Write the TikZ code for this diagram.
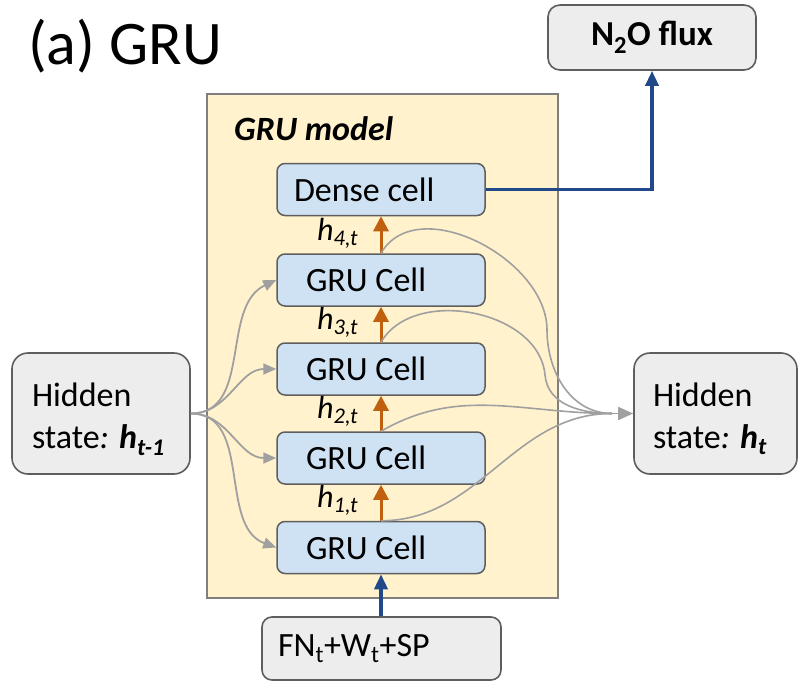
\documentclass[tikz,border=0pt]{standalone}
\usepackage{fontspec}
\setmainfont{Carlito}
\usetikzlibrary{arrows.meta}
\definecolor{boxgray}{HTML}{EDEDED}
\definecolor{boxborder}{HTML}{5E5E5E}
\definecolor{cellblue}{HTML}{CFE2F3}
\definecolor{modelyellow}{HTML}{FFF2CC}
\definecolor{modelborder}{HTML}{7F7F7F}
\definecolor{hcolor}{HTML}{C0600E}
\definecolor{flowblue}{HTML}{21498A}
\definecolor{curvegray}{HTML}{A0A0A0}
\tikzset{
  txt/.style={font=\fontsize{34}{41.5}\selectfont},
  graybox/.style={draw=boxborder, fill=boxgray, line width=1.6pt, rounded corners=12pt, txt},
  cellbox/.style={draw=boxborder, fill=cellblue, line width=1.5pt, rounded corners=8pt,
    minimum width=208pt, minimum height=52pt, inner ysep=0pt, txt, align=flush left},
  modelbox/.style={draw=modelborder, fill=modelyellow, line width=1.4pt},
  harrow/.style={draw=hcolor, line width=3pt, -{Triangle[length=15pt,width=15pt]}},
  bluearrow/.style={draw=flowblue, line width=3.5pt, -{Triangle[length=15pt,width=13pt]}},
  fanin/.style={draw=curvegray, line width=1.8pt, -{Triangle[length=13pt,width=11pt]}},
  fanout/.style={draw=curvegray, line width=1.6pt},
  hlabel/.style={font=\fontsize{32}{38}\selectfont, inner sep=0pt, anchor=base west},
  grucell/.style={cellbox, inner xsep=29pt, text width=150pt},
  hiddenbox/.style={graybox, rounded corners=16pt, minimum height=121pt, inner ysep=0pt, align=flush left},
}
\begin{document}
\begin{tikzpicture}[x=1pt,y=-1pt]
\useasboundingbox (0,0) rectangle (799,682);

% title
\node[font=\fontsize{62}{70}\selectfont, inner sep=0pt, anchor=base west] (title) at (28,65) {(a) GRU};

% model background
\node[modelbox, minimum width=351pt, minimum height=504pt, inner sep=0pt] (model) at (382.5,346) {};
\node[font=\fontsize{34}{41}\selectfont\bfseries\itshape, inner sep=0pt, anchor=base west] (mlabel) at (234,140) {GRU model};

% cells
\node[cellbox, inner xsep=17pt, text width=174pt] (dense) at (381,189.5) {Dense cell};
\node[grucell] (c4) at (381,280) {GRU Cell};
\node[grucell] (c3) at (381,369) {GRU Cell};
\node[grucell] (c2) at (381,458) {GRU Cell};
\node[grucell] (c1) at (381,547.5) {GRU Cell};

% outside boxes
\node[graybox, minimum width=208pt, minimum height=65pt, inner sep=0pt, font=\fontsize{35}{42}\selectfont\bfseries] (flux) at (652,37.5) {N\textsubscript{2}O flux};
\node[graybox, rounded corners=10pt, minimum height=63pt, inner xsep=16pt, inner ysep=0pt, text width=207pt, align=flush left] (inp) at (381.5,648.5) {FN\textsubscript{t}+W\textsubscript{t}+SP};
\node[hiddenbox, inner xsep=20pt, text width=138pt] (hl) at (101,413.5) {\rule{0pt}{35pt}Hidden\\\mbox{state\textit{: }\textbf{\textit{h}\textsubscript{\textit{t-1}}}}};
\node[hiddenbox, inner xsep=19pt, text width=125pt] (hr) at (715.5,413.5) {\rule{0pt}{35pt}Hidden\\\mbox{state\textit{: }\textbf{\textit{h}\textsubscript{\textit{t}}}}};

% h labels
\node[hlabel] (h4) at (317,240) {\textit{h}\textsubscript{\textit{4,t}}};
\node[hlabel] (h3) at (317,329) {\textit{h}\textsubscript{\textit{3,t}}};
\node[hlabel] (h2) at (317,418) {\textit{h}\textsubscript{\textit{2,t}}};
\node[hlabel] (h1) at (317,507) {\textit{h}\textsubscript{\textit{1,t}}};

% vertical hidden-state arrows
\draw[harrow] (c1.north) -- (c2.south);
\draw[harrow] (c2.north) -- (c3.south);
\draw[harrow] (c3.north) -- (c4.south);
\draw[harrow] (c4.north) -- (dense.south);

% input and output
\draw[bluearrow] (inp.north -| c1.south) -- (c1.south);
\draw[bluearrow] (dense.east) -| (flux.south);

% fan-in from previous hidden state
\draw[fanin] (hl.east) to[out=0,in=205] (c4.west);
\draw[fanin] (hl.east) to[out=0,in=180] (c3.west);
\draw[fanin] (hl.east) to[out=0,in=180] (c2.west);
\draw[fanin] (hl.east) to[out=0,in=160] (c1.west);

% fan-out to current hidden state
\coordinate (conv) at (612,413.5);
\coordinate (k4) at (547,330);
\coordinate (k3) at (545,375);
\draw[fanout] (c4.north) to[out=60,in=90] (k4) to[out=-90,in=180] (conv);
\draw[fanout] (c3.north) to[out=60,in=95] (k3) to[out=-85,in=180] (conv);
\draw[fanout] (c2.north) to[out=30,in=180] (conv);
\draw[fanout] (c1.north) to[out=0,in=180] (conv);
\draw[fanin, line width=1.6pt, -{Triangle[length=15pt,width=13pt]}] (conv) -- (hr.west);
\end{tikzpicture}
\end{document}
